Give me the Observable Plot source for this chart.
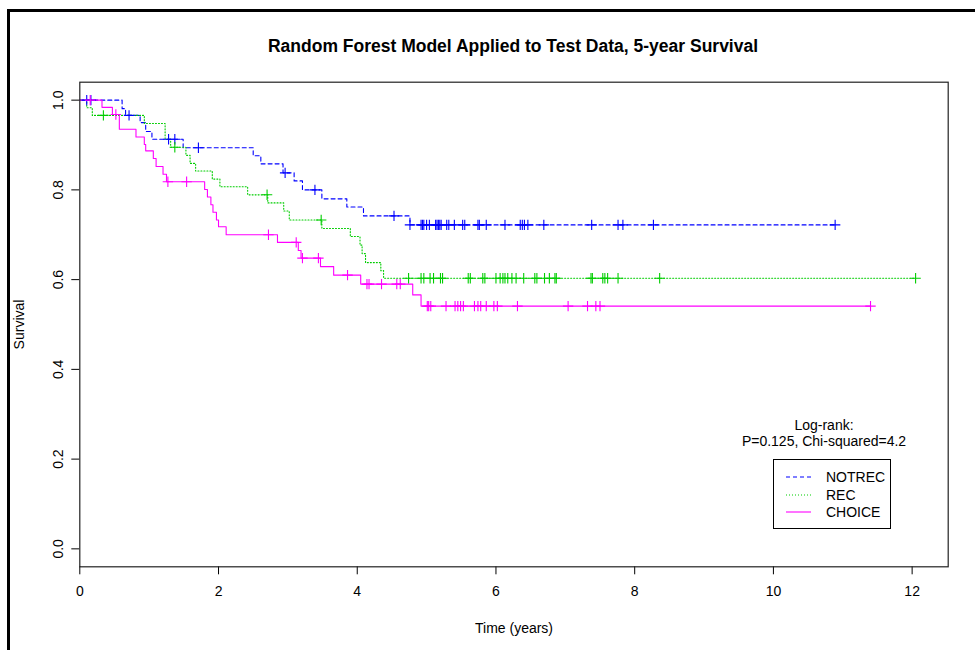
<!DOCTYPE html>
<html>
<head>
<meta charset="utf-8">
<script src="https://cdn.jsdelivr.net/npm/d3@7"></script>
<script src="https://cdn.jsdelivr.net/npm/@observablehq/plot@0.6"></script>
<style>
  html, body { margin: 0; padding: 0; background: #fff; }
  #wrap { position: relative; width: 975px; height: 650px; overflow: hidden; font-family: "Liberation Sans", Arial, sans-serif; color: #000; }
  #frame { position: absolute; left: 7px; top: 9px; width: 1200px; height: 900px; border-left: 3px solid #000; border-top: 3px solid #000; }
  .txt { position: absolute; transform: translate(-50%, -50%); white-space: nowrap; line-height: 1; }
  #chart { position: absolute; left: 0; top: 0; }
  #legend { position: absolute; left: 773px; top: 459px; width: 116px; height: 68px; border: 1px solid #000; background: #fff; }
</style>
</head>
<body>
<div id="wrap">
  <div id="frame"></div>
  <div id="chart"></div>
  <div class="txt" style="left:513px; top:47px; font-size:17.5px; font-weight:bold;">Random Forest Model Applied to Test Data, 5-year Survival</div>
  <div class="txt" style="left:824px; top:425px; font-size:14px;">Log-rank:</div>
  <div class="txt" style="left:824px; top:441px; font-size:14px;">P=0.125, Chi-squared=4.2</div>
  <div id="legend"></div>
</div>
<script>
// ---- Data ----
const groups = ["NOTREC", "REC", "CHOICE"];
const groupColors = ["#0000ff", "#00cd00", "#ff00ff"];

// step points [time, survival]
const notrecSteps = [[0,1.0],[0.61,0.981],[0.66,0.966],[0.87,0.950],[0.95,0.930],[1.04,0.913],[1.49,0.894],[2.50,0.876],[2.61,0.858],[2.93,0.838],[3.09,0.820],[3.21,0.800],[3.49,0.780],[3.85,0.762],[4.09,0.742],[4.76,0.722]];
const notrecCensor = [0.10,0.16,0.71,1.28,1.37,1.71,2.96,3.39,4.53,4.76,4.92,4.94,4.96,5.00,5.04,5.13,5.15,5.17,5.19,5.21,5.29,5.32,5.40,5.52,5.55,5.74,5.76,5.86,6.13,6.35,6.38,6.41,6.46,6.69,7.38,7.76,7.83,8.27,10.89];

const recSteps = [[0,1.0],[0.10,0.983],[0.18,0.966],[0.93,0.948],[1.23,0.913],[1.31,0.895],[1.53,0.877],[1.59,0.859],[1.67,0.842],[1.91,0.824],[2.02,0.807],[2.42,0.789],[2.71,0.771],[2.94,0.753],[3.02,0.733],[3.49,0.714],[3.90,0.696],[4.04,0.677],[4.07,0.658],[4.12,0.638],[4.34,0.620],[4.38,0.603]];
const recCensor = [0.34,1.37,2.70,3.48,4.74,4.92,4.96,5.05,5.10,5.20,5.23,5.60,5.63,5.81,5.84,6.00,6.06,6.10,6.13,6.17,6.23,6.29,6.40,6.56,6.59,6.70,6.77,6.85,6.87,7.37,7.39,7.54,7.57,7.61,7.76,8.36,12.05];

const choiceSteps = [[0,1.0],[0.32,0.984],[0.47,0.968],[0.57,0.935],[0.81,0.918],[0.93,0.901],[0.95,0.887],[1.06,0.870],[1.10,0.852],[1.20,0.835],[1.25,0.818],[1.80,0.801],[1.84,0.784],[1.89,0.767],[1.92,0.750],[1.97,0.733],[2.00,0.718],[2.11,0.700],[2.85,0.683],[3.15,0.665],[3.19,0.648],[3.47,0.629],[3.66,0.610],[4.05,0.590],[4.80,0.566],[4.92,0.541]];
const choiceCensor = [0.15,0.52,1.27,1.54,2.72,3.12,3.21,3.44,3.86,4.14,4.17,4.35,4.57,4.62,5.01,5.03,5.06,5.28,5.41,5.45,5.49,5.53,5.69,5.74,5.78,5.86,5.97,6.02,6.31,7.04,7.32,7.44,7.50,11.40];

const xTicks = [0, 2, 4, 6, 8, 10, 12];
const yTicks = [0.0, 0.2, 0.4, 0.6, 0.8, 1.0];
const dashes = ["4,3", "1,2", null];

// ---- Build tables ----
const stepsBy = [notrecSteps, recSteps, choiceSteps];
const censorBy = [notrecCensor, recCensor, choiceCensor];

function stepAt(steps, t) {
  let s = steps[0][1];
  for (const [ti, si] of steps) { if (ti <= t) s = si; else break; }
  return s;
}

const lineTables = groups.map((g, i) => {
  const pts = stepsBy[i].map(([t, s]) => ({group: g, t, s}));
  const lastT = d3.max(censorBy[i]);
  const lastS = stepAt(stepsBy[i], lastT);
  if (lastT > pts[pts.length - 1].t) pts.push({group: g, t: lastT, s: lastS});
  return pts;
});
const censorTable = groups.flatMap((g, i) => censorBy[i].map(t => ({group: g, t, s: stepAt(stepsBy[i], t)})));

const plusSymbol = {
  draw(context, size) {
    const r = Math.sqrt(size / Math.PI);
    context.moveTo(-r, 0); context.lineTo(r, 0);
    context.moveTo(0, -r); context.lineTo(0, r);
  }
};

const chart = Plot.plot({
  width: 975,
  height: 650,
  marginLeft: 79.3,
  marginRight: 27.3,
  marginTop: 81.7,
  marginBottom: 83.7,
  style: {fontFamily: "'Liberation Sans', Arial, sans-serif", fontSize: "14px", background: "transparent", color: "#000", overflow: "visible"},
  x: {domain: [0, 12.52]},
  y: {domain: [-0.04, 1.04]},
  color: {domain: groups, range: groupColors},
  marks: [
    Plot.axisX({ticks: xTicks, tickSize: 8, tickPadding: 11, tickFormat: d => String(d), label: "Time (years)", labelAnchor: "center", labelOffset: 66, labelArrow: "none", fontSize: 14}),
    Plot.axisY({ticks: yTicks, tickSize: 8, tickPadding: 9, tickRotate: -90, tickFormat: d3.format(".1f"), label: "Survival", labelAnchor: "center", labelOffset: 66, labelArrow: "none", fontSize: 14}),
    ...groups.map((g, i) => Plot.line(lineTables[i], {x: "t", y: "s", stroke: "group", curve: "step-after", strokeWidth: 1.1, strokeDasharray: dashes[i] || undefined})),
    Plot.dot(censorTable, {x: "t", y: "s", stroke: "group", fill: "none", symbol: plusSymbol, r: 5.2, strokeWidth: 1.1}),
    Plot.frame({stroke: "#222", strokeWidth: 1.2})
  ]
});
document.getElementById("chart").appendChild(chart);

// ---- Legend ----
const leg = d3.select("#legend").append("svg").attr("width", 116).attr("height", 68)
  .style("font-family", "'Liberation Sans', Arial, sans-serif").style("font-size", "14px");
const rowsY = [17, 35, 52];
groups.forEach((g, i) => {
  const line = leg.append("line").attr("x1", 12).attr("x2", 37).attr("y1", rowsY[i]).attr("y2", rowsY[i])
    .attr("stroke", groupColors[i]).attr("stroke-width", 1.1);
  if (dashes[i]) line.attr("stroke-dasharray", dashes[i]);
  leg.append("text").attr("x", 52).attr("y", rowsY[i]).attr("dy", "0.35em").text(g);
});
</script>
</body>
</html>
